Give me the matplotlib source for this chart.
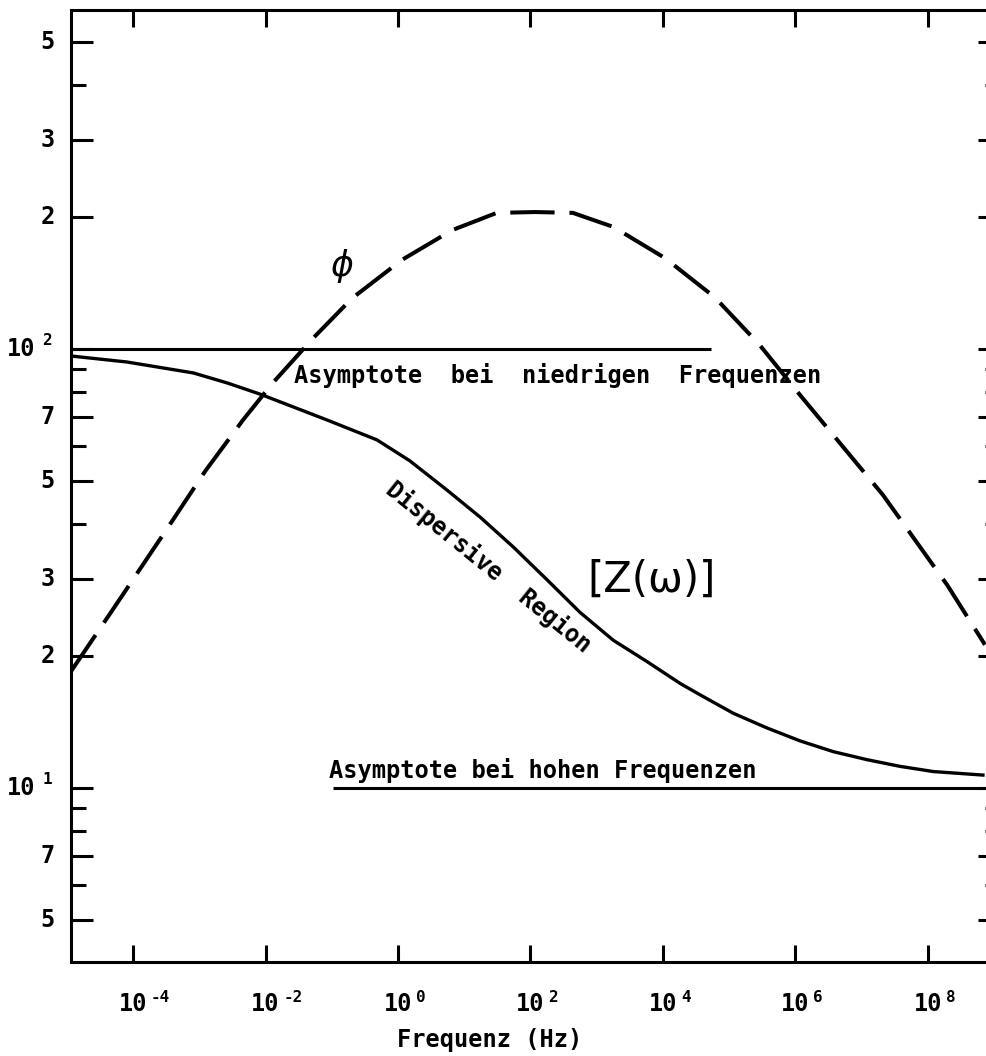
import numpy as np
import matplotlib
matplotlib.use("Agg")
import matplotlib.pyplot as plt
from matplotlib.ticker import FixedLocator, NullLocator, NullFormatter

# ---------------- data ----------------
# |Z(omega)| curve: log10 of frequency (Hz) and magnitude
z_log_freq = [-4.94, -4.09, -3.09, -2.58, -2.08, -1.07, -0.32, -0.08, 0.18, 0.74,
              1.24, 1.74, 2.25, 2.75, 3.25, 3.76, 4.26, 4.56, 5.06, 5.57,
              6.07, 6.57, 7.08, 7.58, 8.08, 8.83]
z_values = [96.4, 93.4, 88.2, 83.7, 78.9, 68.9, 62.1, 58.9, 55.6, 47.7,
            41.4, 35.4, 29.8, 25.1, 21.7, 19.4, 17.3, 16.3, 14.8, 13.7,
            12.8, 12.1, 11.6, 11.2, 10.9, 10.7]

# phase curve (dashed)
phi_log_freq = [-4.94, -4.23, -3.44, -2.91, -2.34, -1.89, -1.28, -0.69, 0.06,
                0.82, 1.49, 2.07, 2.64, 3.25, 4.03, 4.78, 5.46, 6.07, 7.32,
                8.29, 8.86]
phi_values = [18.4, 26.5, 39.9, 52.7, 68.9, 83.7, 105.9, 130.6, 159.6,
              186.6, 204.2, 205.1, 204.2, 189.7, 161.1, 131.2, 102.1, 78.5, 46.5,
              29.0, 21.2]

# asymptotes
low_asym_value = 100.0
low_asym_log_freq = [-4.94, 4.73]
high_asym_value = 10.0
high_asym_log_freq = [-0.98, 9.1]

# ticks
x_tick_exponents = [-4, -2, 0, 2, 4, 6, 8]
y_major_ticks = [500, 300, 200, 100, 70, 50, 30, 20, 10, 7, 5]
y_major_labels = ["5", "3", "2", "10", "7", "5", "3", "2", "10", "7", "5"]
y_label_exponents = ["", "", "", "2", "", "", "", "", "1", "", ""]
y_minor_ticks = [400, 90, 80, 60, 40, 9, 8, 6]

x_label = "Frequenz (Hz)"
text_low = "Asymptote  bei  niedrigen  Frequenzen"
text_high = "Asymptote bei hohen Frequenzen"
text_disp = "Dispersive  Region"
text_z = "[Z(\u03c9)]"
text_phi = "\u03d5"

# ---------------- figure ----------------
plt.rcParams['font.family'] = ['DejaVu Sans Mono', 'DejaVu Sans']
plt.rcParams['font.weight'] = 'bold'
W, H = 986, 1056
fig = plt.figure(figsize=(W / 100, H / 100), dpi=100)
ax = fig.add_axes([71 / W, 1 - 962 / H, (1000 - 71) / W, (962 - 10) / H])

ax.set_xscale('log')
ax.set_yscale('log')
ax.set_xlim(10 ** -4.936, 10 ** 9.087)
ax.set_ylim(10 ** 0.6036, 10 ** 2.7722)

# asymptotes
ax.plot(10.0 ** np.array(low_asym_log_freq), [low_asym_value] * 2, color='black', lw=2.2,
        solid_capstyle='butt')
ax.plot(10.0 ** np.array(high_asym_log_freq), [high_asym_value] * 2, color='black', lw=2.2,
        solid_capstyle='butt')
# Z curve
ax.plot(10.0 ** np.array(z_log_freq), z_values, color='black', lw=2.4,
        solid_joinstyle='round')
# phase curve
ph, = ax.plot(10.0 ** np.array(phi_log_freq), phi_values, color='black', lw=2.9,
              dash_capstyle='butt', dash_joinstyle='round')
ph.set_dashes((11.0, 3.7))

# spines / ticks
for s in ax.spines.values():
    s.set_linewidth(2.2)

ax.xaxis.set_major_locator(FixedLocator([10.0 ** e for e in x_tick_exponents]))
ax.xaxis.set_minor_locator(NullLocator())
ax.xaxis.set_major_formatter(NullFormatter())
ax.yaxis.set_major_locator(FixedLocator(y_major_ticks))
ax.yaxis.set_minor_locator(FixedLocator(y_minor_ticks))
ax.yaxis.set_major_formatter(NullFormatter())
ax.yaxis.set_minor_formatter(NullFormatter())

ax.tick_params(axis='x', which='major', direction='in', length=12, width=2.2,
               top=True, bottom=True)
ax.tick_params(axis='y', which='major', direction='in', length=16, width=2.2,
               left=True, right=True)
ax.tick_params(axis='y', which='minor', direction='in', length=11, width=2.2,
               left=True, right=True)

FS = 17
PT = 0.72  # points per pixel at 100 dpi

# x tick labels: "10" centred on tick, exponent hanging to the right
for e in x_tick_exponents:
    xv = 10.0 ** e
    ax.annotate("10", xy=(xv, 0), xycoords=('data', 'axes fraction'),
                xytext=(0, -42 * PT), textcoords='offset points',
                ha='center', va='center', fontsize=FS)
    ax.annotate(str(e), xy=(xv, 0), xycoords=('data', 'axes fraction'),
                xytext=(18 * PT, -35 * PT), textcoords='offset points',
                ha='left', va='center', fontsize=11.5)

# y tick labels
for v, lab, ex in zip(y_major_ticks, y_major_labels, y_label_exponents):
    if ex:
        ax.annotate(lab, xy=(0, v), xycoords=('axes fraction', 'data'),
                    xytext=(-36 * PT, 0), textcoords='offset points',
                    ha='right', va='center', fontsize=FS)
        ax.annotate(ex, xy=(0, v), xycoords=('axes fraction', 'data'),
                    xytext=(-29 * PT, 8 * PT), textcoords='offset points',
                    ha='left', va='center', fontsize=11.5)
    else:
        ax.annotate(lab, xy=(0, v), xycoords=('axes fraction', 'data'),
                    xytext=(-16 * PT, 0), textcoords='offset points',
                    ha='right', va='center', fontsize=FS)

# annotations
ax.text(10 ** 2.41, 83.7, text_low, ha='center', va='baseline', fontsize=FS)
ax.text(10 ** 2.18, 10.54, text_high, ha='center', va='baseline', fontsize=FS)
ax.text(10 ** 1.374, 31.8, text_disp, ha='center', va='center', fontsize=FS,
        rotation=-39, rotation_mode='anchor')
ax.text(10 ** 3.82, 29.8, text_z, ha='center', va='center', fontsize=30,
        family='DejaVu Sans', weight='normal')
ax.text(10 ** -0.86, 154.6, text_phi, ha='center', va='center', fontsize=25,
        family='DejaVu Sans', style='italic', weight='normal')

fig.text(490 / W, 1 - 1040 / H, x_label, ha='center', va='center', fontsize=FS)

fig.savefig('out.png', dpi=100)
